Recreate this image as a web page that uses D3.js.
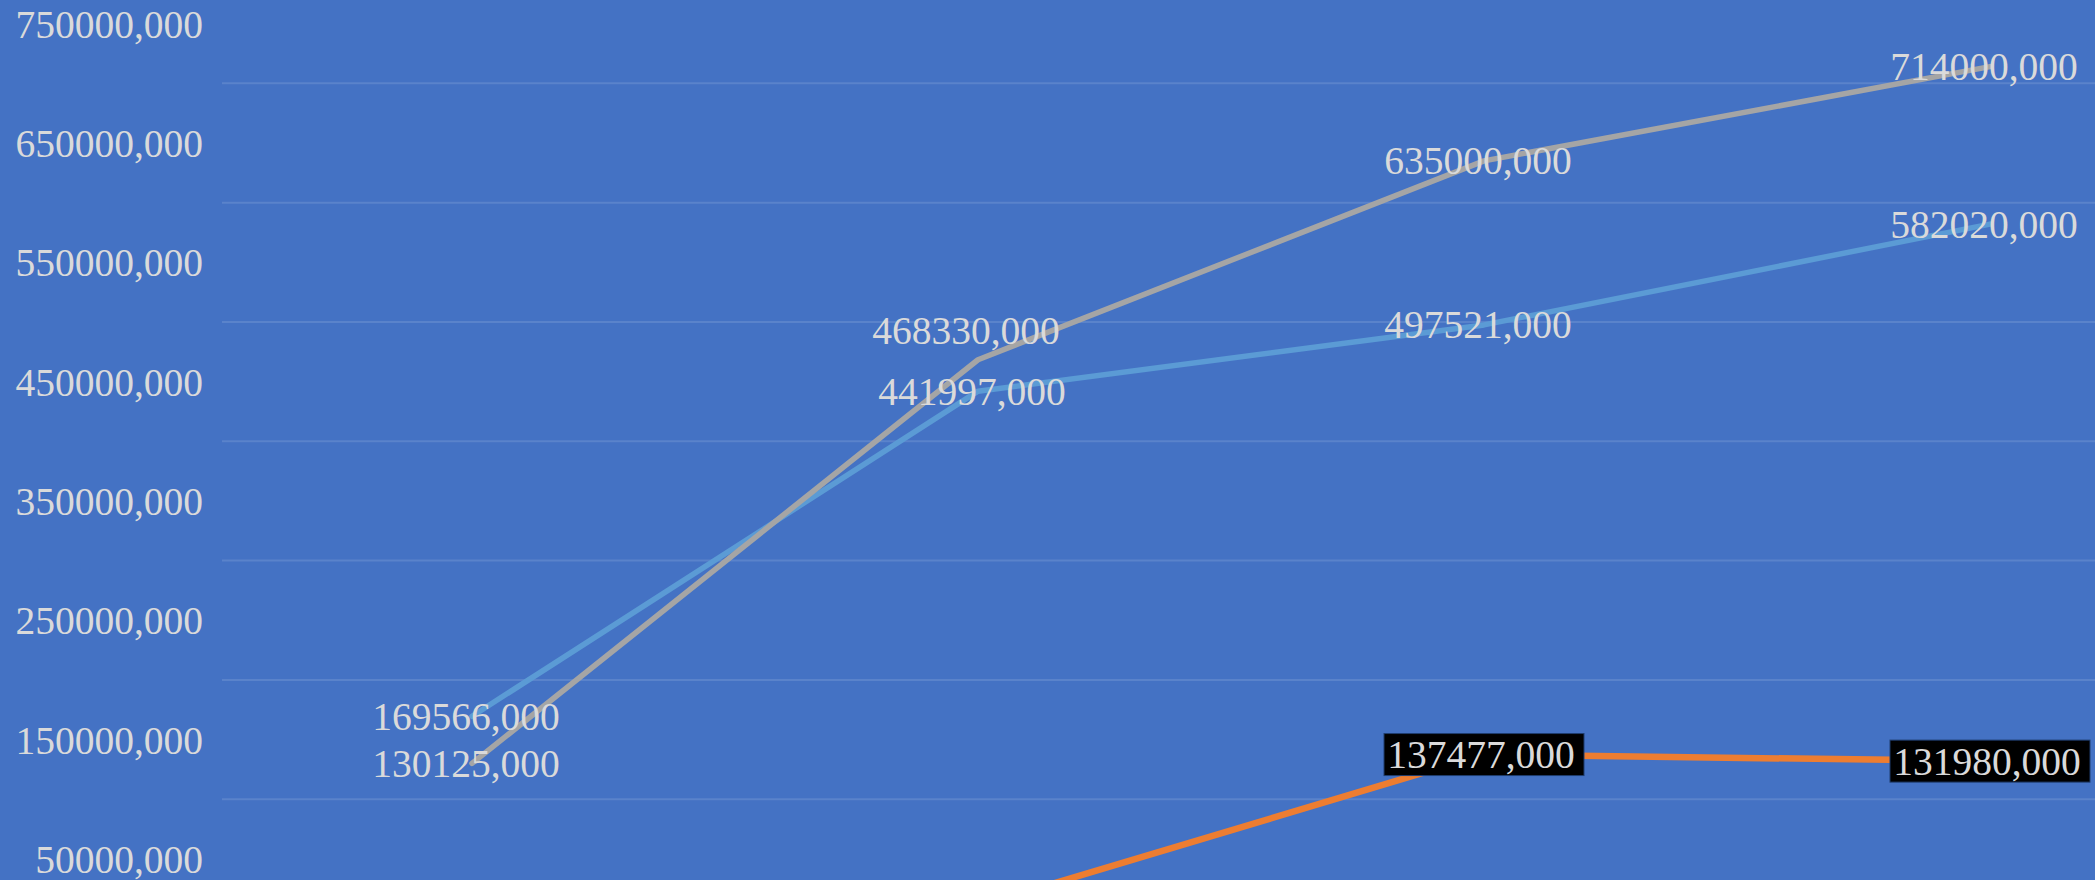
<!DOCTYPE html>
<html>
<head>
<meta charset="utf-8">
<script src="https://cdn.jsdelivr.net/npm/d3@7/dist/d3.min.js"></script>
<style>
  html, body { margin: 0; padding: 0; background: #4472C4; overflow: hidden; }
  svg { display: block; }
</style>
</head>
<body>
<svg id="chart" width="2095" height="880"></svg>
<script>
// ---- data ----
const categories = ["P1", "P2", "P3", "P4"];
const seriesBlue   = [169566000, 441997000, 497521000, 582020000];
const seriesOrange = [9000000, 10500000, 137477000, 131980000];
const seriesGray   = [130125000, 468330000, 635000000, 714000000];
const axisLabelValues = [50000000, 150000000, 250000000, 350000000, 450000000, 550000000, 650000000, 750000000];
const gridValues = [100000000, 200000000, 300000000, 400000000, 500000000, 600000000, 700000000];

// ---- setup ----
const W = 2095, H = 880;
const svg = d3.select("#chart");
const FONT = "'Liberation Serif', 'Times New Roman', serif";
const TEXT = "#dadada";
const FS = 39.5;

svg.append("rect").attr("width", W).attr("height", H).attr("fill", "#4472C4");

const x = d3.scalePoint().domain(categories).range([219, 2243]).padding(0.5);
const y = d3.scaleLinear().domain([0, 700000000]).range([918.6, 83.3]);

const fmt = v => {
  const s = String(Math.round(v));
  return s.slice(0, s.length - 3) + "," + s.slice(-3);
};

// gridlines
svg.append("g").selectAll("line").data(gridValues).join("line")
  .attr("x1", 222).attr("x2", W)
  .attr("y1", d => y(d)).attr("y2", d => y(d))
  .attr("stroke", "rgba(255,255,255,0.12)").attr("stroke-width", 2);

// y axis labels
const yAxis = d3.axisLeft(y).tickValues(axisLabelValues).tickFormat(fmt).tickSize(0).tickPadding(0);
const gy = svg.append("g").attr("transform", "translate(203,0)").call(yAxis);
gy.select(".domain").remove();
gy.selectAll("text")
  .attr("fill", TEXT).attr("font-family", FONT).attr("font-size", FS)
  .attr("dy", "0.34em");

// lines
const line = d3.line().x((d, i) => x(categories[i])).y(d => y(d));
const series = [
  { name: "blue", values: seriesBlue, color: "#5B9BD5", boxed: false, width: 5.5 },
  { name: "orange", values: seriesOrange, color: "#ED7D31", boxed: true, width: 6.5 },
  { name: "gray", values: seriesGray, color: "#A5A5A5", boxed: false, width: 5.5 }
];
series.forEach(s => {
  svg.append("path").datum(s.values)
    .attr("d", line).attr("fill", "none")
    .attr("stroke", s.color).attr("stroke-width", s.width)
    .attr("stroke-linejoin", "round").attr("stroke-linecap", "round");
});

// labels with simple overlap shifting
const labels = [];
series.forEach(s => s.values.forEach((v, i) => {
  labels.push({ s, i, v, x: x(categories[i]) - 6, y: y(v) });
}));
const MINGAP = 46;
categories.forEach((c, i) => {
  const group = labels.filter(l => l.i === i && !l.s.boxed).sort((a, b) => b.y - a.y);
  for (let k = 1; k < group.length; k++) {
    const lower = group[k - 1], upper = group[k];
    const d = lower.y - upper.y;
    if (d < MINGAP) { upper.y = lower.y - (2 * MINGAP - d); upper.x -= 6; }
  }
});

const lg = svg.append("g");
labels.forEach(l => {
  if (l.y > H - 10) return; // outside the visible plot
  if (l.s.boxed) {
    const cx = x(categories[l.i]);
    lg.append("rect")
      .attr("x", cx - 100).attr("y", l.y - 21)
      .attr("width", 200).attr("height", 42)
      .attr("fill", "#000").attr("stroke", "#1f3d6e").attr("stroke-width", 1);
    lg.append("text")
      .attr("x", cx - 3).attr("y", l.y).attr("dy", "0.34em")
      .attr("text-anchor", "middle")
      .attr("fill", TEXT).attr("font-family", FONT).attr("font-size", FS)
      .text(fmt(l.v));
  } else {
    lg.append("text")
      .attr("x", l.x).attr("y", l.y).attr("dy", "0.34em")
      .attr("text-anchor", "middle")
      .attr("fill", TEXT).attr("font-family", FONT).attr("font-size", FS)
      .text(fmt(l.v));
  }
});
</script>
</body>
</html>
